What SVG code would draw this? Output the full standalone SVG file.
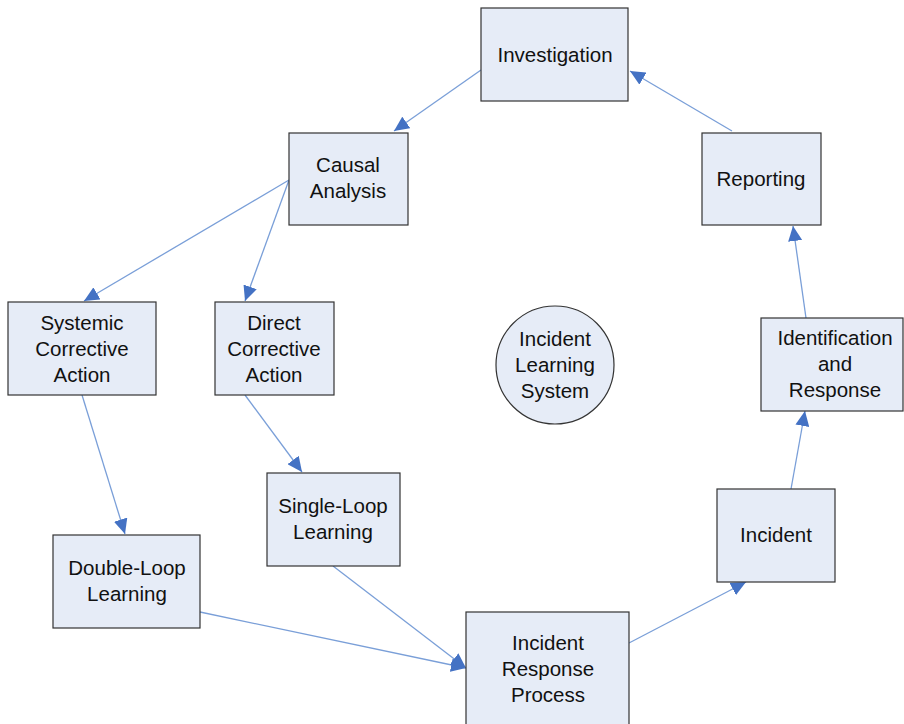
<svg xmlns="http://www.w3.org/2000/svg" width="904" height="724" viewBox="0 0 904 724">
<defs>
<marker id="ah" markerUnits="userSpaceOnUse" markerWidth="16" markerHeight="14" viewBox="0 0 16 14" refX="15" refY="7" orient="auto">
<path d="M0,0 L15,7 L0,14 Z" fill="#4472c4"/>
</marker>
</defs>
<style>
.box{fill:#e6ecf7;stroke:#333;stroke-width:1.2}
.t{font-family:"Liberation Sans",Arial,sans-serif;font-size:20.5px;fill:#111;text-anchor:middle}
.c{fill:none;stroke:#7a9fd8;stroke-width:1.3;marker-end:url(#ah)}
</style>
<rect width="904" height="724" fill="#fff"/>
<g id="connectors">
<line class="c" x1="481" y1="70" x2="394" y2="131"/>
<line class="c" x1="732" y1="131" x2="630" y2="71"/>
<line class="c" x1="289" y1="180" x2="84" y2="301"/>
<line class="c" x1="289" y1="180" x2="245" y2="301"/>
<line class="c" x1="82" y1="395" x2="125" y2="534"/>
<line class="c" x1="245" y1="395" x2="302" y2="472"/>
<line class="c" x1="200" y1="612" x2="466" y2="668"/>
<line class="c" x1="333" y1="566" x2="466" y2="668"/>
<line class="c" x1="629" y1="643" x2="746" y2="582"/>
<line class="c" x1="791" y1="489" x2="805" y2="411"/>
<line class="c" x1="806" y1="318" x2="793" y2="226"/>
</g>
<g id="investigation">
<rect class="box" x="481" y="8" width="147" height="93"/>
<text class="t" x="555" y="62">Investigation</text>
</g>
<g id="causal">
<rect class="box" x="289" y="133" width="119" height="92"/>
<text class="t" x="348" y="172">Causal</text>
<text class="t" x="348" y="198">Analysis</text>
</g>
<g id="reporting">
<rect class="box" x="702" y="133" width="119" height="92"/>
<text class="t" x="761" y="186">Reporting</text>
</g>
<g id="systemic">
<rect class="box" x="8" y="302" width="148" height="93"/>
<text class="t" x="82" y="330">Systemic</text>
<text class="t" x="82" y="356">Corrective</text>
<text class="t" x="82" y="382">Action</text>
</g>
<g id="direct">
<rect class="box" x="215" y="302" width="119" height="93"/>
<text class="t" x="274" y="330">Direct</text>
<text class="t" x="274" y="356">Corrective</text>
<text class="t" x="274" y="382">Action</text>
</g>
<g id="ils">
<circle class="box" cx="555" cy="365" r="59" stroke-width="1"/>
<text class="t" x="555" y="346">Incident</text>
<text class="t" x="555" y="372">Learning</text>
<text class="t" x="555" y="398">System</text>
</g>
<g id="identification">
<rect class="box" x="761" y="318" width="142" height="93"/>
<text class="t" x="835" y="345">Identification</text>
<text class="t" x="835" y="371">and</text>
<text class="t" x="835" y="397">Response</text>
</g>
<g id="single">
<rect class="box" x="267" y="473" width="133" height="93"/>
<text class="t" x="333" y="513">Single-Loop</text>
<text class="t" x="333" y="539">Learning</text>
</g>
<g id="double">
<rect class="box" x="53" y="535" width="147" height="93"/>
<text class="t" x="127" y="575">Double-Loop</text>
<text class="t" x="127" y="601">Learning</text>
</g>
<g id="incident">
<rect class="box" x="717" y="489" width="118" height="93"/>
<text class="t" x="776" y="542">Incident</text>
</g>
<g id="irp">
<rect class="box" x="466" y="612" width="163" height="120"/>
<text class="t" x="548" y="650">Incident</text>
<text class="t" x="548" y="676">Response</text>
<text class="t" x="548" y="702">Process</text>
</g>
</svg>
